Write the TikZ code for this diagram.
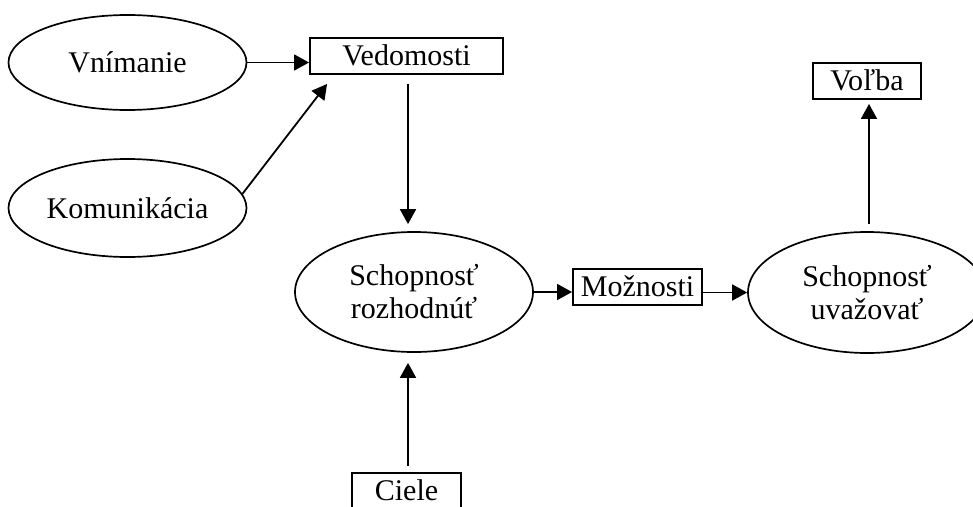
\documentclass[tikz,border=0pt]{standalone}
\usepackage{fontspec}
\setmainfont{Liberation Serif}
\usetikzlibrary{arrows.meta,calc,shapes.geometric}
\begin{document}
\begin{tikzpicture}[x=1pt,y=-1pt,
  every node/.style={font=\fontsize{30}{33}\selectfont},
  oval/.style={draw,ellipse,line width=1.7pt,inner sep=0pt,align=center,minimum width=238pt},
  boxnode/.style={draw,rectangle,line width=1.9pt,inner sep=0pt,minimum height=36pt,text height=22pt,text depth=4pt},
  conn/.style={line width=1.8pt,-{Triangle[length=15pt,width=16pt]}}]
\clip (0,0) rectangle (973,506);
\useasboundingbox (0,0) rectangle (973,506);
\node[oval,minimum height=95pt] (vn) at (127.5,62.5) {Vnímanie};
\node[oval,minimum height=98pt] (kom) at (127.5,208) {Komunikácia};
\node[boxnode,minimum width=193pt] (ved) at (406.5,56) {Vedomosti};
\node[oval,minimum height=120pt] (roz) at (414,292) {Schopnosť\\rozhodnúť};
\node[boxnode,minimum width=129pt] (moz) at (637.5,287) {Možnosti};
\node[oval,minimum height=121pt] (uva) at (867,292.5) {Schopnosť\\uvažovať};
\node[boxnode,minimum width=108pt] (vol) at (867,81) {Voľba};
\node[boxnode,minimum width=109pt] (cie) at (406.5,491) {Ciele};
\coordinate (komtip) at ($(ved.south west)+(18,9)$);
\draw[conn] (vn.east) -- (vn.east -| ved.west);
\draw[conn] (kom.7) -- (komtip);
\draw[conn,shorten <=9pt,shorten >=7pt] ($(ved.south)+(1.5,0)$) -- ($(ved.south |- roz.north)+(1.5,0)$);
\draw[conn,shorten <=6pt,shorten >=10pt] ($(cie.north)+(1.5,0)$) -- ($(cie.north |- roz.south)+(1.5,0)$);
\draw[conn] (roz.east) -- (roz.east -| moz.west);
\draw[conn] ($(uva.west -| moz.east)+(-2,0)$) -- (uva.west);
\draw[conn,shorten <=7pt,shorten >=4pt] ($(uva.north)+(2,0)$) -- ($(vol.south)+(2,0)$);
\end{tikzpicture}
\end{document}
